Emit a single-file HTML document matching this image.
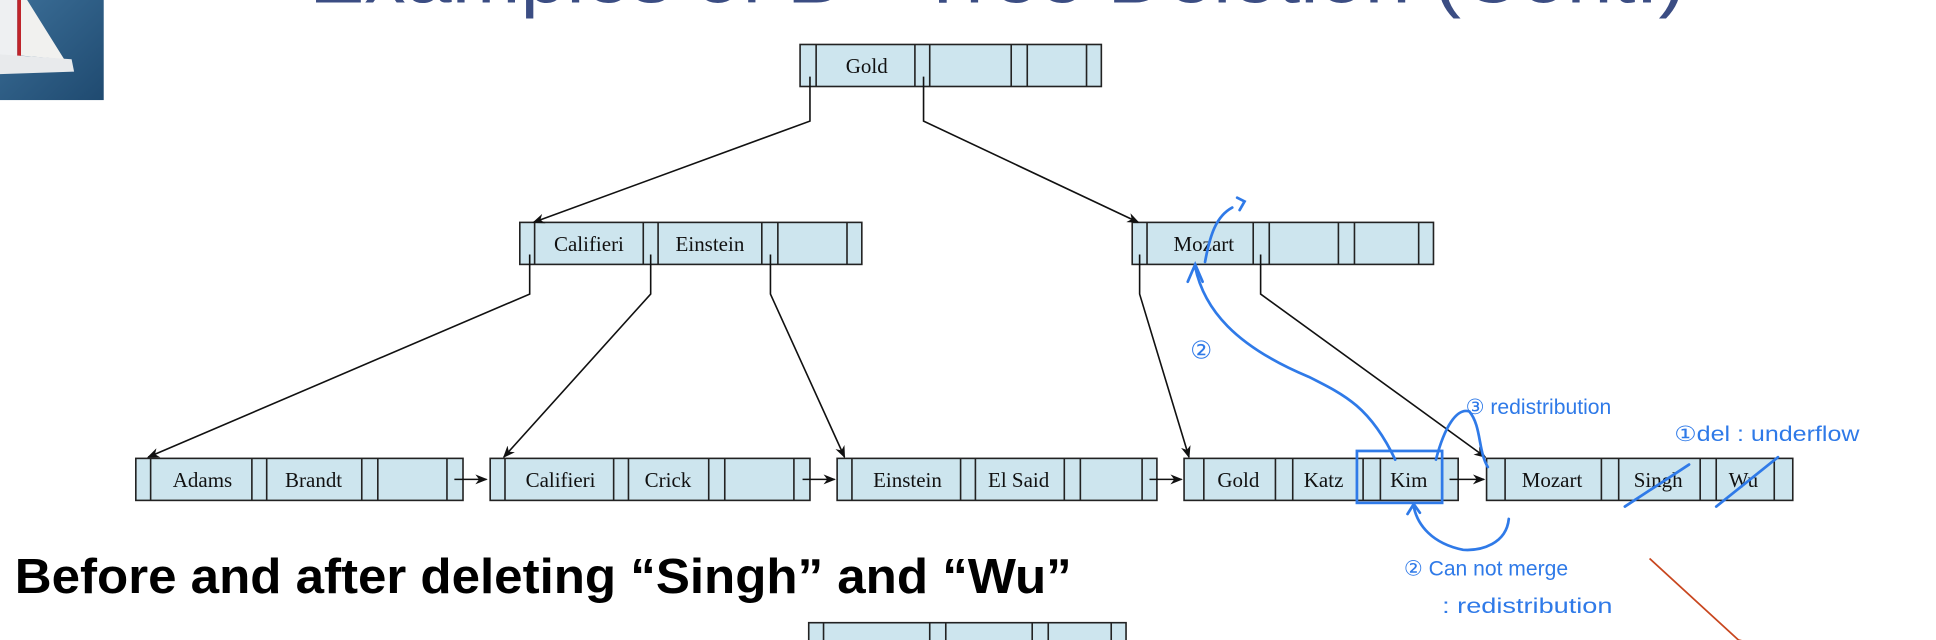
<!DOCTYPE html>
<html><head><meta charset="utf-8"><style>
html,body{margin:0;padding:0;background:#fff;width:1936px;height:640px;overflow:hidden}
svg{display:block}
</style></head><body>
<svg width="1936" height="640" viewBox="0 0 1568 518" preserveAspectRatio="none" xmlns="http://www.w3.org/2000/svg">
<defs>
<marker id="ah" markerWidth="10" markerHeight="8" refX="9" refY="4" orient="auto" markerUnits="userSpaceOnUse"><path d="M0,0 L10,4 L0,8 L3,4 z" fill="#111"/></marker>
<marker id="ahr" markerWidth="14" markerHeight="12" refX="1" refY="6" orient="auto-start-reverse" markerUnits="userSpaceOnUse"><path d="M12,0 L1,6 L12,12" fill="none" stroke="#c8461e" stroke-width="1.4"/></marker>
<linearGradient id="sea" x1="0" y1="0" x2="1" y2="1"><stop offset="0" stop-color="#3c6f98"/><stop offset="1" stop-color="#1f4a70"/></linearGradient>
</defs>
<!-- photo -->
<rect x="0" y="0" width="84" height="81" fill="url(#sea)"/>
<path d="M0,0 L14,0 L14,45 L0,45 z" fill="#eef0f2"/>
<path d="M17,0 L22,0 L52,48 L17,45 z" fill="#f1f1ef"/>
<rect x="14" y="0" width="3" height="46" fill="#c0242a"/>
<path d="M0,44 L58,48 L60,58 L0,60 z" fill="#e8eaec"/>
<!-- title (cut off) -->
<text x="808" y="2" text-anchor="middle" font-family="Liberation Sans, sans-serif" font-size="62" fill="#1a2e6e" textLength="1115" lengthAdjust="spacingAndGlyphs" opacity="0.85">Examples of B+-Tree Deletion (Cont.)</text>

<g stroke="#222" stroke-width="1.3" fill="#cde5ee">
<rect x="648" y="36" width="244" height="34"/>
<path d="M661,36V70M741,36V70M753,36V70M819,36V70M832,36V70M880,36V70" fill="none"/>
<rect x="421" y="180" width="277" height="34"/>
<path d="M433,180V214M521,180V214M533,180V214M617,180V214M630,180V214M686,180V214" fill="none"/>
<rect x="917" y="180" width="244" height="34"/>
<path d="M929,180V214M1015,180V214M1028,180V214M1084,180V214M1097,180V214M1149,180V214" fill="none"/>
<rect x="110" y="371" width="265" height="34"/>
<path d="M122,371V405M204,371V405M216,371V405M293,371V405M306,371V405M362,371V405" fill="none"/>
<rect x="397" y="371" width="259" height="34"/>
<path d="M409,371V405M497,371V405M509,371V405M574,371V405M587,371V405M643,371V405" fill="none"/>
<rect x="678" y="371" width="259" height="34"/>
<path d="M690,371V405M778,371V405M790,371V405M862,371V405M875,371V405M925,371V405" fill="none"/>
<rect x="959" y="371" width="222" height="34"/>
<path d="M975,371V405M1033,371V405M1047,371V405M1104,371V405M1118,371V405M1168,371V405" fill="none"/>
<rect x="1204" y="371" width="248" height="34"/>
<path d="M1219,371V405M1297,371V405M1311,371V405M1377,371V405M1390,371V405M1437,371V405" fill="none"/>
</g>
<g stroke="#222" stroke-width="1.3" fill="#cde5ee">
<rect x="655" y="504" width="257" height="30"/>
<path d="M667,504V518M753,504V518M766,504V518M836,504V518M849,504V518M900,504V518" fill="none"/>
</g>

<g font-family="Liberation Serif, serif" font-size="17" fill="#111" text-anchor="middle">
<text x="702" y="59">Gold</text>
<text x="477" y="203">Califieri</text>
<text x="575" y="203">Einstein</text>
<text x="975" y="203">Mozart</text>
<text x="164" y="394">Adams</text><text x="254" y="394">Brandt</text>
<text x="454" y="394">Califieri</text><text x="541" y="394">Crick</text>
<text x="735" y="394">Einstein</text><text x="825" y="394">El Said</text>
<text x="1003" y="394">Gold</text><text x="1072" y="394">Katz</text><text x="1141" y="394">Kim</text>
<text x="1257" y="394">Mozart</text><text x="1343" y="394">Singh</text><text x="1412" y="394">Wu</text>
<text x="702" y="530">Gold</text>
</g>

<g stroke="#111" stroke-width="1.3" fill="none" marker-end="url(#ah)">
<path d="M656,62V98L432,180"/>
<path d="M748,62V98L922,180"/>
<path d="M429,206V238L120,370"/>
<path d="M527,206V238L408,370"/>
<path d="M624,206V238L684,370"/>
<path d="M923,206V238L963,370"/>
<path d="M1021,206V238L1203,370"/>
<path d="M368,388H394"/>
<path d="M650,388H676"/>
<path d="M931,388H957"/>
<path d="M1174,388H1202"/>
</g>

<text x="12" y="480" font-family="Liberation Sans, sans-serif" font-weight="bold" font-size="40" fill="#000" textLength="856" lengthAdjust="spacingAndGlyphs">Before and after deleting “Singh” and “Wu”</text>

<g stroke="#2f7ae8" stroke-width="2.2" fill="none" stroke-linecap="round">
<rect x="1099" y="365" width="69" height="42"/>
<path d="M1130,372 C1110,330 1090,320 1060,305 C1000,280 975,250 968,216"/>
<path d="M962,228 L968,214 L974,228"/>
<path d="M976,212 C980,190 985,175 998,168 M1002,160 L1008,163 L1004,170"/>
<path d="M1163,372 C1170,345 1180,330 1190,333 C1200,345 1197,365 1205,378"/>
<path d="M1316,410 L1368,376 M1390,410 L1440,370"/>
<path d="M1222,420 C1220,440 1200,446 1185,445 C1160,440 1148,425 1145,410 M1140,416 L1145,408 L1150,415"/>
</g>
<g font-family="Liberation Sans Narrow, Liberation Sans, sans-serif" fill="#2f7ae8" font-size="17">
<text x="964" y="290" font-size="20">②</text>
<text x="1187" y="335" textLength="118" lengthAdjust="spacingAndGlyphs">③ redistribution</text>
<text x="1356" y="357" textLength="150" lengthAdjust="spacingAndGlyphs">①del : underflow</text>
<text x="1137" y="466" textLength="133" lengthAdjust="spacingAndGlyphs">② Can not merge</text>
<text x="1168" y="496" textLength="138" lengthAdjust="spacingAndGlyphs">: redistribution</text>
</g>
<path d="M1408,518 L1336,452" stroke="#c8461e" stroke-width="1.4" fill="none" marker-start="url(#ahr)"/>
</svg>
</body></html>
